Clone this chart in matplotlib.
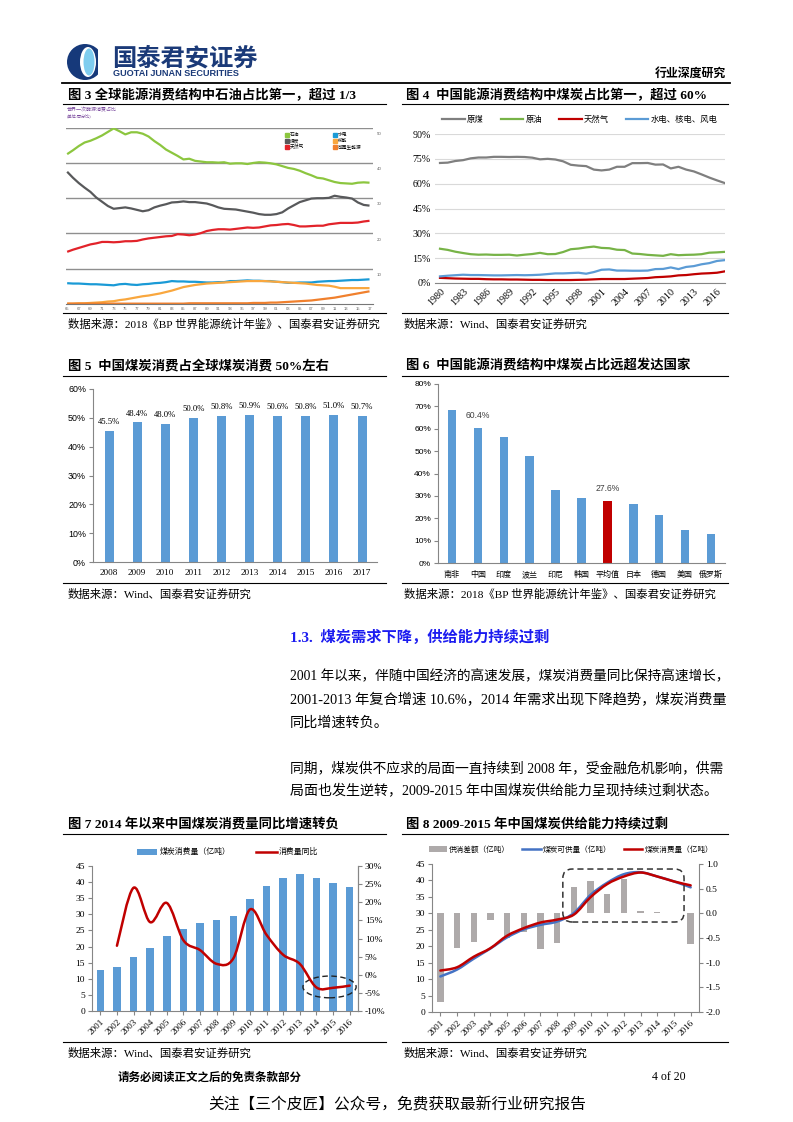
import numpy as np
import matplotlib
matplotlib.use('Agg')
import matplotlib.pyplot as plt
from matplotlib.lines import Line2D
from matplotlib.patches import Ellipse, FancyBboxPatch, PathPatch, Rectangle
from matplotlib.path import Path
import matplotlib.transforms as mtransforms

# ---------------- data ----------------
years3 = list(range(1965, 2018))
oil3 = [42.5, 43.6, 44.8, 45.8, 46.3, 47.0, 47.8, 48.8, 49.8, 49.0, 48.1, 48.7, 48.7, 48.3, 47.5,
        46.2, 45.1, 43.8, 42.9, 42.0, 41.0, 41.2, 40.6, 40.4, 40.2, 40.2, 40.1, 40.2, 39.8, 39.9,
        39.9, 39.7, 40.0, 40.2, 40.1, 39.9, 39.6, 39.1, 38.6, 38.3, 37.8, 37.1, 36.5, 35.8, 35.6,
        35.1, 34.6, 34.3, 34.2, 34.1, 34.4, 34.5, 34.4]
coal3 = [37.5, 35.8, 34.3, 33.0, 31.8, 30.2, 29.0, 27.8, 27.0, 27.2, 27.4, 27.1, 26.7, 26.3, 26.6,
         27.4, 27.9, 28.3, 28.8, 28.9, 29.1, 28.9, 28.9, 28.7, 28.5, 28.0, 27.4, 27.0, 26.9, 26.8,
         26.5, 26.2, 25.9, 25.5, 25.3, 25.3, 25.5, 26.0, 27.1, 28.0, 28.9, 29.4, 29.9, 30.0, 30.0,
         30.1, 30.7, 30.4, 30.2, 29.9, 28.8, 28.1, 27.9]
gas3 = [14.8, 15.4, 15.9, 16.4, 16.9, 17.2, 17.6, 17.6, 17.5, 17.6, 17.8, 17.8, 17.9, 18.3, 18.6,
        18.8, 19.0, 19.2, 19.3, 19.8, 19.7, 19.5, 19.7, 20.1, 20.7, 21.0, 21.2, 21.2, 21.1, 21.3,
        21.5, 21.7, 21.6, 21.7, 22.0, 22.3, 22.4, 22.6, 22.7, 22.4, 22.0, 22.0, 22.1, 22.2, 22.2,
        22.6, 22.8, 23.0, 23.0, 23.0, 23.1, 23.4, 23.6]
hydro3 = [5.9, 5.8, 5.8, 5.7, 5.6, 5.6, 5.5, 5.4, 5.3, 5.6, 5.7, 5.5, 5.4, 5.6, 5.7,
          5.9, 6.0, 6.2, 6.5, 6.4, 6.4, 6.3, 6.3, 6.2, 6.1, 6.1, 6.2, 6.2, 6.5, 6.5,
          6.6, 6.7, 6.6, 6.6, 6.5, 6.5, 6.3, 6.2, 6.0, 6.0, 6.1, 6.1, 6.1, 6.3, 6.4,
          6.5, 6.5, 6.6, 6.7, 6.8, 6.8, 6.9, 7.0]
nuclear3 = [0.1, 0.1, 0.2, 0.2, 0.3, 0.4, 0.5, 0.7, 0.8, 1.1, 1.3, 1.6, 1.9, 2.2, 2.4,
            2.7, 3.0, 3.4, 3.8, 4.3, 4.8, 5.1, 5.4, 5.6, 5.8, 5.9, 6.0, 6.1, 6.2, 6.3,
            6.4, 6.5, 6.5, 6.5, 6.5, 6.4, 6.3, 6.2, 6.1, 6.0, 5.9, 5.8, 5.6, 5.4, 5.3,
            5.2, 4.9, 4.5, 4.5, 4.5, 4.5, 4.5, 4.5]
renew3 = [0.1] * 21 + [0.2] * 11 + [0.3, 0.3, 0.3, 0.4, 0.4, 0.5, 0.6, 0.7, 0.8, 0.9, 1.0, 1.2,
                                    1.4, 1.6, 1.8, 2.1, 2.4, 2.7, 3.0, 3.3, 3.6]
legend3 = ['石油', '煤炭', '天然气', '水电', '核能', '可再生能源']

years4 = list(range(1980, 2018))
coal4 = [72.5, 72.7, 73.7, 74.2, 75.3, 75.8, 75.8, 76.2, 76.2, 76.1, 76.2, 76.1, 75.7, 74.7, 75.0,
         74.6, 73.5, 71.4, 70.9, 70.6, 68.5, 68.0, 68.5, 70.2, 70.2, 72.4, 72.4, 72.5, 71.5, 71.6,
         69.2, 70.2, 68.5, 67.4, 65.6, 63.7, 62.0, 60.4]
oil4 = [20.7, 20.0, 18.9, 18.1, 17.4, 17.1, 17.2, 17.0, 17.0, 17.1, 16.6, 17.1, 17.5, 18.2, 17.4,
        17.5, 18.7, 20.4, 20.8, 21.5, 22.0, 21.2, 21.0, 20.1, 19.9, 17.8, 17.5, 17.0, 16.7, 16.4,
        17.4, 16.8, 17.0, 17.1, 17.4, 18.3, 18.5, 18.8]
gas4 = [3.1, 2.9, 2.7, 2.6, 2.5, 2.5, 2.3, 2.2, 2.2, 2.1, 2.1, 2.0, 1.9, 1.9, 1.8,
        1.8, 1.8, 1.8, 1.9, 2.0, 2.2, 2.4, 2.4, 2.4, 2.4, 2.6, 2.8, 3.0, 3.5, 3.7,
        4.0, 4.6, 4.8, 5.3, 5.7, 5.9, 6.2, 7.0]
hydro4 = [4.0, 4.4, 4.7, 5.0, 4.8, 4.8, 4.7, 4.6, 4.6, 4.7, 4.8, 4.7, 4.8, 5.0, 5.4,
          5.8, 5.8, 6.0, 6.2, 5.6, 6.6, 8.0, 8.2, 7.5, 7.5, 7.4, 7.4, 7.5, 8.4, 8.5,
          9.4, 8.4, 9.7, 10.2, 11.3, 12.0, 13.3, 13.8]
legend4 = ['原煤', '原油', '天然气', '水电、核电、风电']

years5 = ['2008', '2009', '2010', '2011', '2012', '2013', '2014', '2015', '2016', '2017']
share5 = [45.5, 48.4, 48.0, 50.0, 50.8, 50.9, 50.6, 50.8, 51.0, 50.7]

countries6 = ['南非', '中国', '印度', '波兰', '印尼', '韩国', '平均值', '日本', '德国', '美国', '俄罗斯']
share6 = [68.2, 60.4, 56.4, 47.8, 32.7, 29.2, 27.6, 26.5, 21.3, 14.9, 13.1]
labeled6 = ['中国', '平均值']

years7 = list(range(2001, 2017))
consume7 = [12.6, 13.6, 16.8, 19.4, 23.2, 25.5, 27.2, 28.1, 29.6, 34.9, 38.9, 41.2, 42.4, 41.2, 39.7, 38.5]
yoy_years7 = list(range(2002, 2017))
yoy7 = [8.0, 24.0, 14.5, 19.8, 9.5, 6.8, 3.0, 4.5, 18.0, 11.0, 5.5, 3.0, -3.5, -3.6, -3.0]

years8 = list(range(2001, 2017))
gap8 = [-1.79, -0.71, -0.59, -0.14, -0.50, -0.37, -0.73, -0.60, 0.53, 0.66, 0.40, 0.69, 0.05, 0.02, 0.01, -0.62]
supply8 = [10.8, 12.9, 16.2, 19.3, 22.7, 25.1, 26.5, 27.5, 30.1, 35.6, 39.3, 41.9, 42.5, 41.2, 39.7, 37.9]
consume8 = [12.6, 13.6, 16.8, 19.4, 23.2, 25.5, 27.2, 28.1, 29.6, 34.9, 38.9, 41.2, 42.4, 41.2, 39.7, 38.5]

# ---------------- helpers ----------------
W, H = 793, 1122
fig = plt.figure(figsize=(W / 100, H / 100), dpi=100)
fig.patch.set_facecolor('white')

CJK = 'Noto Sans CJK SC'
SERIF = ['Liberation Serif', CJK]
SANS = ['Liberation Sans', CJK]
BLUE = '#5b9bd5'
GRAYAX = '#868686'


def fx(x):
    return x / W


def fy(y):
    return 1 - y / H


def T(x, y, s, size=9, family=SERIF, weight='normal', color='black', ha='left', va='center', **kw):
    return fig.text(fx(x), fy(y), s, fontsize=size, family=family, weight=weight,
                    color=color, ha=ha, va=va, **kw)


def HL(x0, x1, y, lw=0.8, color='black'):
    fig.add_artist(Line2D([fx(x0), fx(x1)], [fy(y), fy(y)], transform=fig.transFigure,
                          lw=lw, color=color))


def AX(x0, y0, x1, y1):
    a = fig.add_axes([fx(x0), fy(y1), (x1 - x0) / W, (y1 - y0) / H])
    a.patch.set_alpha(0)
    return a


def smooth(ax, x, y, color, lw, zorder=3):
    x = np.asarray(x, float)
    y = np.asarray(y, float)
    n = len(x)
    verts = [(x[0], y[0])]
    codes = [Path.MOVETO]
    for i in range(n - 1):
        p0 = np.array([x[max(i - 1, 0)], y[max(i - 1, 0)]])
        p1 = np.array([x[i], y[i]])
        p2 = np.array([x[i + 1], y[i + 1]])
        p3 = np.array([x[min(i + 2, n - 1)], y[min(i + 2, n - 1)]])
        c1 = p1 + (p2 - p0) / 6
        c2 = p2 - (p3 - p1) / 6
        verts += [tuple(c1), tuple(c2), tuple(p2)]
        codes += [Path.CURVE4] * 3
    ax.add_patch(PathPatch(Path(verts, codes), fill=False, edgecolor=color, lw=lw,
                           zorder=zorder, capstyle='round', joinstyle='round'))


def style_axes(ax, left=True, right=False, bottom=True):
    for s in ['top', 'left', 'right', 'bottom']:
        ax.spines[s].set_visible(False)
    for s, v in [('left', left), ('right', right), ('bottom', bottom)]:
        if v:
            ax.spines[s].set_visible(True)
            ax.spines[s].set_color(GRAYAX)
            ax.spines[s].set_linewidth(0.8)


# ---------------- header ----------------
fig.add_artist(Ellipse((fx(85), fy(62)), 36 / W, 36 / H, transform=fig.transFigure,
                       facecolor='#16397a', edgecolor='none'))
fig.add_artist(Ellipse((fx(88), fy(62)), 16 / W, 30 / H, transform=fig.transFigure,
                       facecolor='white', edgecolor='none'))
fig.add_artist(Ellipse((fx(89), fy(62)), 11 / W, 27 / H, transform=fig.transFigure,
                       facecolor='#7fcdef', edgecolor='none'))
fig.add_artist(Rectangle((fx(98), fy(80)), 6 / W, 36 / H, transform=fig.transFigure,
                         facecolor='white', edgecolor='none'))
T(112, 58, '国泰君安证券', size=17.5, family=[CJK], weight='bold', color='#1b3a78')
T(113, 74, 'GUOTAI JUNAN SECURITIES', size=6.6, family=['Liberation Sans'], weight='bold', color='#1b3a78')
T(726, 73, '行业深度研究', size=8.6, family=[CJK], weight='bold', ha='right')
HL(62, 730, 83, lw=1.3)

# ---------------- titles / sources ----------------
TS = 9.6
T(68, 95, '图 3 全球能源消费结构中石油占比第一，超过 1/3', size=TS, weight='bold')
T(406, 95, '图 4  中国能源消费结构中煤炭占比第一，超过 60%', size=TS, weight='bold')
HL(63, 386, 104)
HL(402, 728, 104)
HL(63, 386, 313)
HL(402, 728, 313)
T(68, 324, '数据来源：2018《BP 世界能源统计年鉴》、国泰君安证券研究', size=8.2)
T(404, 324, '数据来源：Wind、国泰君安证券研究', size=8.2)

T(68, 366, '图 5  中国煤炭消费占全球煤炭消费 50%左右', size=TS, weight='bold')
T(406, 366, '图 6  中国能源消费结构中煤炭占比远超发达国家', size=TS, weight='bold')
HL(63, 386, 376)
HL(402, 728, 376)
HL(63, 386, 583)
HL(402, 728, 583)
T(68, 594, '数据来源：Wind、国泰君安证券研究', size=8.2)
T(404, 594, '数据来源：2018《BP 世界能源统计年鉴》、国泰君安证券研究', size=8.2)

T(68, 825, '图 7 2014 年以来中国煤炭消费量同比增速转负', size=TS, weight='bold')
T(406, 825, '图 8 2009-2015 年中国煤炭供给能力持续过剩', size=TS, weight='bold')
HL(63, 386, 834)
HL(402, 728, 834)
HL(63, 386, 1042)
HL(402, 728, 1042)
T(68, 1053, '数据来源：Wind、国泰君安证券研究', size=8.2)
T(404, 1053, '数据来源：Wind、国泰君安证券研究', size=8.2)

# ---------------- body text ----------------
T(290, 637, '1.3.  煤炭需求下降，供给能力持续过剩', size=11, weight='bold', color='#1c1cf0')
T(290, 677, '2001 年以来，伴随中国经济的高速发展，煤炭消费量同比保持高速增长，', size=9.85)
T(290, 700, '2001-2013 年复合增速 10.6%，2014 年需求出现下降趋势，煤炭消费量', size=10.3)
T(290, 723, '同比增速转负。', size=10.2)
T(290, 768, '同期，煤炭供不应求的局面一直持续到 2008 年，受金融危机影响，供需', size=9.95)
T(290, 791, '局面也发生逆转，2009-2015 年中国煤炭供给能力呈现持续过剩状态。', size=10.1)

# ---------------- footer ----------------
T(118, 1077, '请务必阅读正文之后的免责条款部分', size=8.3, family=[CJK], weight='bold')
T(686, 1077, '4 of 20', size=8.6, ha='right')
T(397, 1105, '关注【三个皮匠】公众号，免费获取最新行业研究报告', size=11.3, family=[CJK], ha='center')

# ---------------- chart 3 ----------------
ax3 = AX(66, 127.7, 373, 304)
cols3 = ['#8cc63f', '#58595b', '#e2232a', '#1a9ad6', '#f9a73e', '#f0802d']
for vals, c, lab in zip([oil3, coal3, gas3, hydro3, nuclear3, renew3], cols3, legend3):
    ax3.plot(years3, vals, color=c, lw=1.6, label=lab, solid_capstyle='butt')
ax3.set_xlim(1964.8, 2017.6)
ax3.set_ylim(0, 50)
ax3.set_yticks([10, 20, 30, 40, 50])
ax3.yaxis.grid(True, color='#8f8f8f', lw=1.0)
ax3.set_axisbelow(True)
style_axes(ax3, left=False, bottom=True)
ax3.spines['bottom'].set_color('#777777')
ax3.tick_params(axis='y', left=False, labelleft=False)
ax3.set_xticks(list(range(1965, 2018, 2)))
ax3.set_xticklabels([f'{y % 100:02d}' for y in range(1965, 2018, 2)], fontsize=3.0,
                    family='Liberation Sans', color='#666666')
ax3.tick_params(axis='x', length=0, pad=2)
trans3 = mtransforms.blended_transform_factory(ax3.transAxes, ax3.transData)
for v in [10, 20, 30, 40, 50]:
    ax3.text(1.012, v - 1.2, str(v), transform=trans3, fontsize=3.2, family='Liberation Sans',
             color='#666666', va='top', ha='left')
h3 = [Line2D([], [], marker='s', ls='none', color=c, markersize=2.6) for c in cols3]
ax3.legend(h3, legend3, ncol=2, loc='upper left', bbox_to_anchor=(0.71, 0.985), frameon=False,
           prop={'family': CJK, 'size': 3.4}, handlelength=0.6, handletextpad=0.3,
           columnspacing=6.2, labelspacing=0.22, borderaxespad=0)
T(67, 110, '世界一次能源消费占比', size=3.6, family=[CJK], color='#7b4b9e')
T(67, 115.5, '(单位:百分比)', size=3.0, family=[CJK], color='#7b4b9e')

# ---------------- chart 4 ----------------
ax4 = AX(435, 134, 725, 283)
cols4 = ['#7f7f7f', '#77b347', '#c00000', '#5b9bd5']
for vals, c, lab in zip([coal4, oil4, gas4, hydro4], cols4, legend4):
    ax4.plot(years4, vals, color=c, lw=1.6, label=lab)
ax4.set_xlim(1979.35, 2017.05)
ax4.set_ylim(0, 90)
ax4.set_yticks(list(range(0, 91, 15)))
ax4.set_yticklabels([f'{v}%' for v in range(0, 91, 15)], fontsize=7.2, family='Liberation Serif')
ax4.yaxis.grid(True, color='#d9d9d9', lw=0.8)
ax4.set_axisbelow(True)
style_axes(ax4, left=False, bottom=True)
ax4.tick_params(axis='y', length=0, pad=3)
ax4.set_xticks(list(range(1980, 2017, 3)))
ax4.set_xticklabels([str(y) for y in range(1980, 2017, 3)], rotation=45, ha='right',
                    rotation_mode='anchor', fontsize=7.2, family='Liberation Serif')
ax4.tick_params(axis='x', length=0, pad=3)
ax4.legend(ncol=4, loc='center', bbox_to_anchor=(0.5, 1.095), frameon=False,
           prop={'family': CJK, 'size': 6.0}, handlelength=2.7, handletextpad=0.3,
           columnspacing=2.0, borderaxespad=0)

# ---------------- chart 5 ----------------
ax5 = AX(93, 389, 377, 562)
x5 = np.arange(len(years5))
ax5.bar(x5, share5, width=0.32, color=BLUE)
ax5.set_xlim(-0.57, 9.53)
ax5.set_ylim(0, 60)
ax5.set_yticks(list(range(0, 61, 10)))
ax5.set_yticklabels([f'{v}%' for v in range(0, 61, 10)], fontsize=6.4, family='Liberation Sans')
ax5.set_xticks(x5)
ax5.set_xticklabels(years5, fontsize=6.6, family='Liberation Serif')
style_axes(ax5, left=True, bottom=True)
ax5.tick_params(axis='y', length=3, color=GRAYAX, pad=2)
ax5.tick_params(axis='x', length=0, pad=5)
for xi, v in zip(x5, share5):
    ax5.annotate(f'{v:.1f}%', (xi, v), xytext=(0, 3.5), textcoords='offset points',
                 ha='center', va='bottom', fontsize=6.2, family='Liberation Serif')

# ---------------- chart 6 ----------------
ax6 = AX(438, 384, 725, 563)
x6 = np.arange(len(countries6))
cols6 = ['#c00000' if c == '平均值' else BLUE for c in countries6]
ax6.bar(x6, share6, width=0.33, color=cols6)
ax6.set_xlim(-0.54, 10.54)
ax6.set_ylim(0, 80)
ax6.set_yticks(list(range(0, 81, 10)))
ax6.set_yticklabels([f'{v}%' for v in range(0, 81, 10)], fontsize=6.0, family='Liberation Sans')
ax6.set_xticks(x6)
ax6.set_xticklabels(countries6, fontsize=5.8, family=CJK)
style_axes(ax6, left=True, bottom=True)
ax6.tick_params(axis='y', length=3, color=GRAYAX, pad=2)
ax6.tick_params(axis='x', length=0, pad=5)
for xi, c, v in zip(x6, countries6, share6):
    if c in labeled6:
        ax6.annotate(f'{v:.1f}%', (xi, v), xytext=(0, 6), textcoords='offset points',
                     ha='center', va='bottom', fontsize=6.2, family='Liberation Sans', color='#404040')

# ---------------- chart 7 ----------------
ax7 = AX(92, 866, 358, 1011)
ax7.bar(years7, consume7, width=0.45, color=BLUE, label='煤炭消费量（亿吨）')
ax7.set_xlim(2000.5, 2016.5)
ax7.set_ylim(0, 45)
ax7.set_yticks(list(range(0, 46, 5)))
ax7.set_yticklabels([str(v) for v in range(0, 46, 5)], fontsize=6.8, family='Liberation Serif')
ax7.set_xticks(years7)
ax7.set_xticklabels([str(y) for y in years7], rotation=45, ha='right', rotation_mode='anchor',
                    fontsize=6.6, family='Liberation Serif')
style_axes(ax7, left=True, right=True, bottom=True)
ax7.tick_params(axis='both', length=3, color=GRAYAX, pad=2)
ax7r = ax7.twinx()
ax7r.patch.set_alpha(0)
ax7r.set_ylim(-10, 30)
ax7r.set_yticks(list(range(-10, 31, 5)))
ax7r.set_yticklabels([f'{v}%' for v in range(-10, 31, 5)], fontsize=6.8, family='Liberation Serif')
style_axes(ax7r, left=False, right=True, bottom=False)
ax7r.tick_params(axis='y', length=3, color=GRAYAX, pad=2)
smooth(ax7r, yoy_years7, yoy7, '#c00000', 1.8)
ln7, = ax7r.plot([], [], color='#c00000', lw=1.8, label='消费量同比')
hb7, lb7 = ax7.get_legend_handles_labels()
ax7r.legend(hb7 + [ln7], lb7 + ['消费量同比'], ncol=2, loc='center', bbox_to_anchor=(0.51, 1.097),
            frameon=False, prop={'family': CJK, 'size': 5.7}, handlelength=2.6, handleheight=0.8,
            handletextpad=0.3, columnspacing=3.2, borderaxespad=0)
ax7.add_patch(Ellipse((0.893, 0.166), 0.2, 0.15, transform=ax7.transAxes, fill=False,
                      edgecolor='#222222', lw=1.0, ls=(0, (4, 2.5)), zorder=5))

# ---------------- chart 8 ----------------
ax8 = AX(432, 864, 699, 1012)
ax8r = ax8.twinx()
ax8r.bar(years8, gap8, width=0.38, color='#aeaaaa', label='供消差额（亿吨）')
ax8r.set_ylim(-2.0, 1.0)
ax8r.set_yticks(np.arange(-2.0, 1.01, 0.5))
ax8r.set_yticklabels([f'{v:.1f}' for v in np.arange(-2.0, 1.01, 0.5)], fontsize=6.8,
                     family='Liberation Serif')
ax8.set_zorder(ax8r.get_zorder() + 1)
ax8.patch.set_visible(False)
smooth(ax8, years8, supply8, '#4472c4', 1.8, zorder=3)
smooth(ax8, years8, consume8, '#c00000', 1.8, zorder=4)
ax8.set_xlim(2000.5, 2016.5)
ax8.set_ylim(0, 45)
ax8.set_yticks(list(range(0, 46, 5)))
ax8.set_yticklabels([str(v) for v in range(0, 46, 5)], fontsize=6.8, family='Liberation Serif')
ax8.set_xticks(years8)
ax8.set_xticklabels([str(y) for y in years8], rotation=45, ha='right', rotation_mode='anchor',
                    fontsize=6.6, family='Liberation Serif')
style_axes(ax8, left=True, right=False, bottom=True)
style_axes(ax8r, left=False, right=True, bottom=False)
ax8.tick_params(axis='both', length=3, color=GRAYAX, pad=2)
ax8r.tick_params(axis='y', length=3, color=GRAYAX, pad=2)
hb8, lb8 = ax8r.get_legend_handles_labels()
l8a, = ax8.plot([], [], color='#4472c4', lw=1.8)
l8b, = ax8.plot([], [], color='#c00000', lw=1.8)
ax8.legend(hb8 + [l8a, l8b], lb8 + ['煤炭可供量（亿吨）', '煤炭消费量（亿吨）'], ncol=3, loc='center',
           bbox_to_anchor=(0.52, 1.095), frameon=False, prop={'family': CJK, 'size': 5.5},
           handlelength=2.4, handleheight=0.8, handletextpad=0.3, columnspacing=1.6, borderaxespad=0)
ax8.add_patch(FancyBboxPatch((0.49, 0.608), 0.454, 0.358, transform=ax8.transAxes,
                             boxstyle='round,pad=0,rounding_size=0.035', mutation_aspect=1.8,
                             fill=False, edgecolor='#333333', lw=1.1, ls=(0, (4, 2.5)), zorder=6))

fig.savefig('out.png', dpi=100, facecolor='white')
